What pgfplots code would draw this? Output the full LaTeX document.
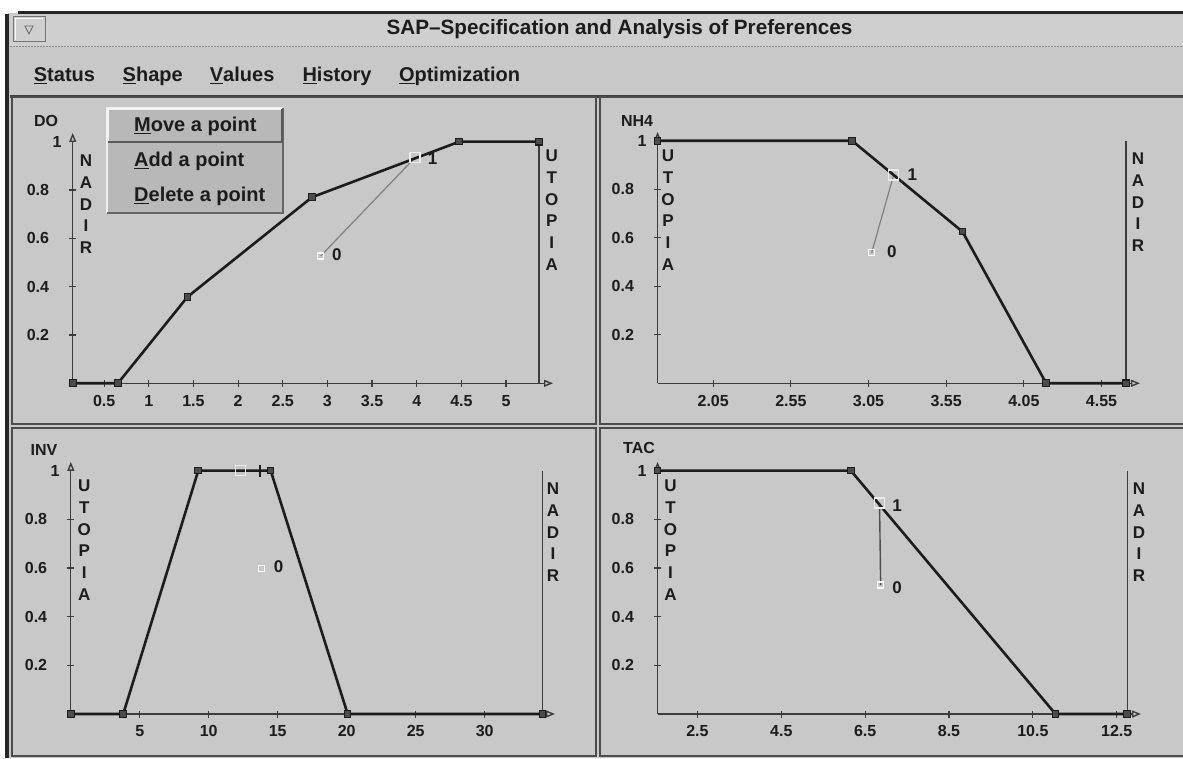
\documentclass[border=0pt]{standalone}
\usepackage{fontspec}
\setmainfont{Liberation Sans}
\usepackage{pgfplots}
\pgfplotsset{compat=1.18}
\usetikzlibrary{arrows.meta}
\definecolor{bg}{HTML}{C8C8C8}
\definecolor{tbar}{HTML}{CFCFCF}
\definecolor{ink}{HTML}{1C1C1C}
\definecolor{axc}{HTML}{3C3C3C}
\newcommand\tf{\fontsize{16}{16}\selectfont\bfseries}
\newcommand\lf{\fontsize{17}{21.7}\selectfont\bfseries}
\newcommand\af{\fontsize{16}{18}\selectfont\bfseries}
\newcommand\mf{\fontsize{20}{24}\selectfont\bfseries}
\newcommand\pf{\fontsize{20}{24}\selectfont\bfseries}
\pgfplotsset{
 sap/.style={
  scale only axis, anchor=south west, clip=false,
  axis lines=left,
  axis line style={axc, line width=1.4pt},
  every outer x axis line/.append style={-{Triangle[open,length=9pt,width=7pt]}},
  every outer y axis line/.append style={-{Triangle[open,length=9pt,width=7pt]}},
  every inner x axis line/.append style={-{Triangle[open,length=9pt,width=7pt]}},
  every inner y axis line/.append style={-{Triangle[open,length=9pt,width=7pt]}},
  tick align=center, major tick length=7pt,
  tick style={axc, line width=1.2pt},
  ymin=0, ymax=1.036,
  ytick={0.2,0.4,0.6,0.8}, yticklabels={0.2,0.4,0.6,0.8},
  extra y ticks={1}, extra y tick labels={1},
  extra y tick style={major tick length=0pt, yticklabel style={xshift=9pt}},
  xticklabel style={font=\tf, text=ink, anchor=north, inner sep=0pt, yshift=-8pt},
  yticklabel style={font=\tf, text=ink, anchor=east, inner sep=0pt, xshift=-20pt},
 },
 curve/.style={ink, line width=2.6pt, mark=square*, mark size=3.3pt, mark options={fill=black!70, draw=ink, line width=1pt}},
 endpt/.style={only marks, mark=square, mark size=3.3pt, mark options={draw=ink, fill=bg, line width=1.2pt}},
 side/.style={axc, line width=1.2pt},
 ptone/.style={only marks, mark=square, mark size=5pt, mark options={draw=white!92!black, line width=1.6pt}},
 ptzero/.style={only marks, mark=square, mark size=3pt, mark options={draw=white, line width=1.2pt}},
 link/.style={black!50, line width=1.2pt},
}
\begin{document}
\begin{tikzpicture}[x=1pt,y=1pt]
\clip (0,0) rectangle (1183,758);
% window
\fill[white] (0,0) rectangle (1183,758);
\fill[bg] (8,0) rectangle (1183,745);
\fill[tbar] (10,712) rectangle (1183,743);
\draw[black!45, line width=1pt, dash pattern=on 2pt off 1pt] (10,711) -- (1183,711);
\draw[black!85, line width=3pt] (18,745) -- (1183,745);
\draw[black!85, line width=4pt] (7,0) -- (7,744);
% title button
\draw[black!55, line width=1pt, fill=tbar] (13,716) rectangle (45,741);
\draw[white!80!tbar, line width=1pt] (15,718) -- (15,739) -- (43,739);
\draw[black!60, line width=0.8pt] (25,732) -- (33,732) -- (29,724) -- cycle;
\node[anchor=base, font=\fontsize{20.7}{24}\selectfont\bfseries, text=ink] at (619.5,723) {SAP–Specification and Analysis of Preferences};
% menu bar
\node[anchor=base west, font=\mf, text=ink, inner sep=0] at (33.7,676.3) {\underline{S}tatus};
\node[anchor=base west, font=\mf, text=ink, inner sep=0] at (122.5,676.3) {\underline{S}hape};
\node[anchor=base west, font=\mf, text=ink, inner sep=0] at (209.7,676.3) {\underline{V}alues};
\node[anchor=base west, font=\mf, text=ink, inner sep=0] at (302.3,676.3) {\underline{H}istory};
\node[anchor=base west, font=\mf, text=ink, inner sep=0] at (398.8,676.3) {\underline{O}ptimization};
% panels
\draw[black!75, line width=2.5pt] (10,661.5) -- (1183,661.5);
\draw[black!70, line width=1.6pt] (12,334) rectangle (596,661);
\draw[black!70, line width=1.6pt] (600,334) rectangle (1190,661);
\draw[black!70, line width=1.6pt] (12,2) rectangle (596,330);
\draw[black!70, line width=1.6pt] (600,2) rectangle (1190,330);
% axis titles
\node[font=\af, text=ink] at (46,637.3) {DO};
\node[font=\af, text=ink] at (637,637.3) {NH4};
\node[font=\af, text=ink] at (44,308) {INV};
\node[font=\af, text=ink] at (639,309.7) {TAC};
% side letters
\node[anchor=north, inner sep=0, align=center, font=\lf, text=ink] at (86,603) {N\\A\\D\\I\\R};
\node[anchor=north, inner sep=0, align=center, font=\lf, text=ink] at (551.7,608) {U\\T\\O\\P\\I\\A};
\node[anchor=north, inner sep=0, align=center, font=\lf, text=ink] at (668,608) {U\\T\\O\\P\\I\\A};
\node[anchor=north, inner sep=0, align=center, font=\lf, text=ink] at (1138,605) {N\\A\\D\\I\\R};
\node[anchor=north, inner sep=0, align=center, font=\lf, text=ink] at (84.2,278) {U\\T\\O\\P\\I\\A};
\node[anchor=north, inner sep=0, align=center, font=\lf, text=ink] at (553,275) {N\\A\\D\\I\\R};
\node[anchor=north, inner sep=0, align=center, font=\lf, text=ink] at (670.6,278) {U\\T\\O\\P\\I\\A};
\node[anchor=north, inner sep=0, align=center, font=\lf, text=ink] at (1139,275) {N\\A\\D\\I\\R};

% DO
\begin{axis}[sap, at={(72.7pt,374.7pt)}, width=480.3pt, height=250.3pt, xmin=0.148, xmax=5.526,
 xtick={0.5,1,1.5,2,2.5,3,3.5,4,4.5,5}, xticklabels={0.5,1,1.5,2,2.5,3,3.5,4,4.5,5}]
\addplot[side] coordinates {(5.37,0) (5.37,1)};
\addplot[link] coordinates {(2.925,0.527) (3.983,0.935)};
\addplot[curve] coordinates {(0.148,0) (0.654,0) (1.434,0.358) (2.827,0.77) (4.476,1) (5.37,1)};
\addplot[endpt] coordinates {(5.37,1)};
\addplot[ptone] coordinates {(3.983,0.935)};
\addplot[ptzero] coordinates {(2.925,0.527)};
\node[font=\lf, text=ink] at (axis cs:4.177,0.931) {1};
\node[font=\lf, text=ink] at (axis cs:3.105,0.531) {0};
\end{axis}

% NH4
\begin{axis}[sap, at={(657.6pt,374.7pt)}, width=482.4pt, height=251.3pt, xmin=1.692, xmax=4.798,
 xtick={2.05,2.55,3.05,3.55,4.05,4.55}, xticklabels={2.05,2.55,3.05,3.55,4.05,4.55}]
\addplot[side] coordinates {(4.708,0) (4.708,1)};
\addplot[link] coordinates {(3.07,0.538) (3.212,0.859)};
\addplot[curve] coordinates {(1.692,1) (2.944,1) (3.655,0.625) (4.194,0) (4.708,0)};
\addplot[endpt] coordinates {(4.708,0)};
\addplot[ptone] coordinates {(3.212,0.859)};
\addplot[ptzero] coordinates {(3.07,0.538)};
\node[font=\lf, text=ink] at (axis cs:3.332,0.859) {1};
\node[font=\lf, text=ink] at (axis cs:3.20,0.542) {0};
\end{axis}

% INV
\begin{axis}[sap, at={(70.8pt,44pt)}, width=484.2pt, height=252.1pt, xmin=0, xmax=35.1,
 xtick={5,10,15,20,25,30}, xticklabels={5,10,15,20,25,30}]
\addplot[side] coordinates {(34.2,0) (34.2,1)};
\addplot[curve] coordinates {(0,0) (3.80,0) (9.24,1) (14.49,1) (20.07,0) (34.2,0)};
\addplot[endpt] coordinates {(34.2,0)};
\addplot[ptone] coordinates {(12.29,1)};
\addplot[only marks, mark=|, mark size=6pt, mark options={ink, line width=2pt}] coordinates {(13.74,1)};
\addplot[ptzero] coordinates {(13.82,0.599)};
\node[font=\lf, text=ink] at (axis cs:15.07,0.605) {0};
\end{axis}

% TAC
\begin{axis}[sap, at={(657.6pt,44pt)}, width=483.4pt, height=252.1pt, xmin=1.55, xmax=13.08,
 xtick={2.5,4.5,6.5,8.5,10.5,12.5}, xticklabels={2.5,4.5,6.5,8.5,10.5,12.5}]
\addplot[side] coordinates {(12.75,0) (12.75,1)};
\addplot[black!70, line width=1.4pt] coordinates {(6.87,0.53) (6.844,0.866)};
\addplot[curve] coordinates {(1.55,1) (6.16,1) (11.04,0) (12.75,0)};
\addplot[endpt] coordinates {(12.75,0)};
\addplot[ptone] coordinates {(6.844,0.866)};
\addplot[ptzero] coordinates {(6.87,0.53)};
\node[font=\lf, text=ink] at (axis cs:7.26,0.856) {1};
\node[font=\lf, text=ink] at (axis cs:7.26,0.52) {0};
\end{axis}

% popup menu
\fill[bg!92!black] (107,545) rectangle (283,650);
\draw[white!75!bg, line width=1.5pt] (107,545) -- (107,650) -- (283,650);
\draw[black!60, line width=2pt] (107,545) -- (283,545) -- (283,650);
\draw[black!65, line width=2pt] (108,616) -- (282,616) -- (282,649);
\draw[white!80!bg, line width=1.5pt] (108,617) -- (108,649) -- (281,649);
\node[anchor=base west, font=\pf, text=ink, inner sep=0] at (134,626.3) {\underline{M}ove a point};
\node[anchor=base west, font=\pf, text=ink, inner sep=0] at (134,591.3) {\underline{A}dd a point};
\node[anchor=base west, font=\pf, text=ink, inner sep=0] at (134,556.3) {\underline{D}elete a point};
\end{tikzpicture}
\end{document}
